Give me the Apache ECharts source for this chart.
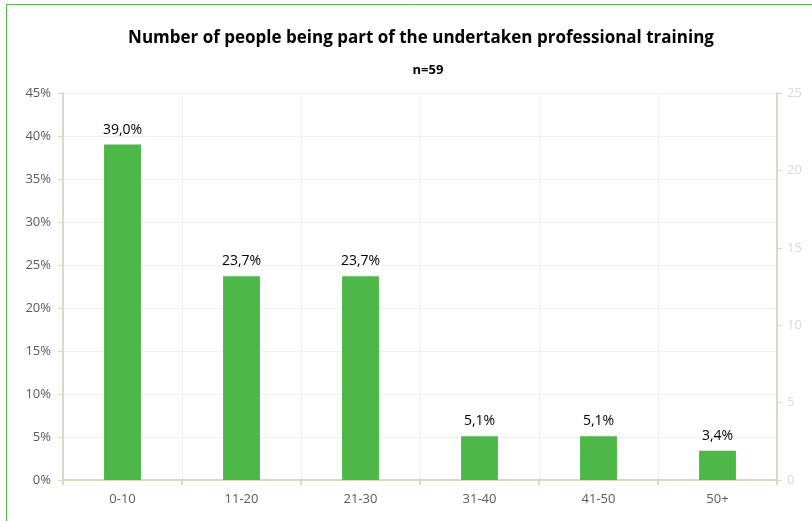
<!DOCTYPE html>
<html>
<head>
<meta charset="utf-8">
<script src="https://cdn.jsdelivr.net/npm/echarts@6/dist/echarts.min.js"></script>
<style>
  html, body { margin: 0; padding: 0; background: #fff; }
  #chart { width: 812px; height: 521px; }
</style>
</head>
<body>
<div id="chart"></div>
<script>
// Age groups and share of respondents (%)
const categories = ['0-10', '11-20', '21-30', '31-40', '41-50', '50+'];
const shares = [39.0, 23.7, 23.7, 5.1, 5.1, 3.4];
const leftTicks = { min: 0, max: 45, interval: 5 };
const rightTicks = { min: 0, max: 25, interval: 5 };

const FONT = "'Open Sans', sans-serif";
const axisTan = '#ddd8c0';

const chart = echarts.init(document.getElementById('chart'), null, { renderer: 'canvas' });
chart.setOption({
  animation: false,
  textStyle: { fontFamily: FONT },
  title: [
    {
      text: 'Number of people being part of the undertaken professional training',
      left: 416, textAlign: 'center', top: 25,
      textStyle: { fontSize: 17, fontWeight: 'bold', color: '#000', fontFamily: FONT }
    },
    {
      text: 'n=59',
      left: 423, textAlign: 'center', top: 59,
      textStyle: { fontSize: 13, fontWeight: 'bold', color: '#000', fontFamily: FONT }
    }
  ],
  graphic: [{
    type: 'rect', silent: true,
    shape: { x: 6.5, y: 4.5, width: 900, height: 700 },
    style: { fill: 'none', stroke: '#58b94c', lineWidth: 1 }
  }],
  grid: { left: 63, right: 35, top: 93, bottom: 41 },
  xAxis: {
    type: 'category',
    data: categories,
    axisLine: { lineStyle: { color: axisTan, width: 2 } },
    axisTick: { show: true, length: 5, lineStyle: { color: axisTan, width: 2 } },
    axisLabel: { color: '#595959', fontSize: 13, margin: 13, fontFamily: FONT },
    splitLine: { show: true, lineStyle: { color: '#f0f0f0' } }
  },
  yAxis: [
    {
      type: 'value', min: leftTicks.min, max: leftTicks.max, interval: leftTicks.interval,
      axisLine: { show: true, lineStyle: { color: axisTan, width: 2 } },
      axisTick: { show: true, length: 5, lineStyle: { color: axisTan, width: 1 } },
      axisLabel: { color: '#595959', fontSize: 13, margin: 12, formatter: v => v + '%', fontFamily: FONT },
      splitLine: { show: true, lineStyle: { color: '#f0f0f0' } }
    },
    {
      type: 'value', position: 'right', min: rightTicks.min, max: rightTicks.max, interval: rightTicks.interval,
      axisLine: { show: true, lineStyle: { color: axisTan, width: 2 } },
      axisTick: { show: true, length: 5, lineStyle: { color: axisTan, width: 1 } },
      axisLabel: { color: '#d9d9d9', fontSize: 13, margin: 10, fontFamily: FONT },
      splitLine: { show: false }
    }
  ],
  series: [{
    type: 'bar',
    yAxisIndex: 0,
    data: shares,
    barWidth: '31%',
    itemStyle: { color: '#4db848' },
    label: {
      show: true, position: 'top', distance: 8,
      color: '#000', fontSize: 14, fontFamily: FONT,
      formatter: p => p.value.toFixed(1).replace('.', ',') + '%'
    }
  }]
});
</script>
</body>
</html>
